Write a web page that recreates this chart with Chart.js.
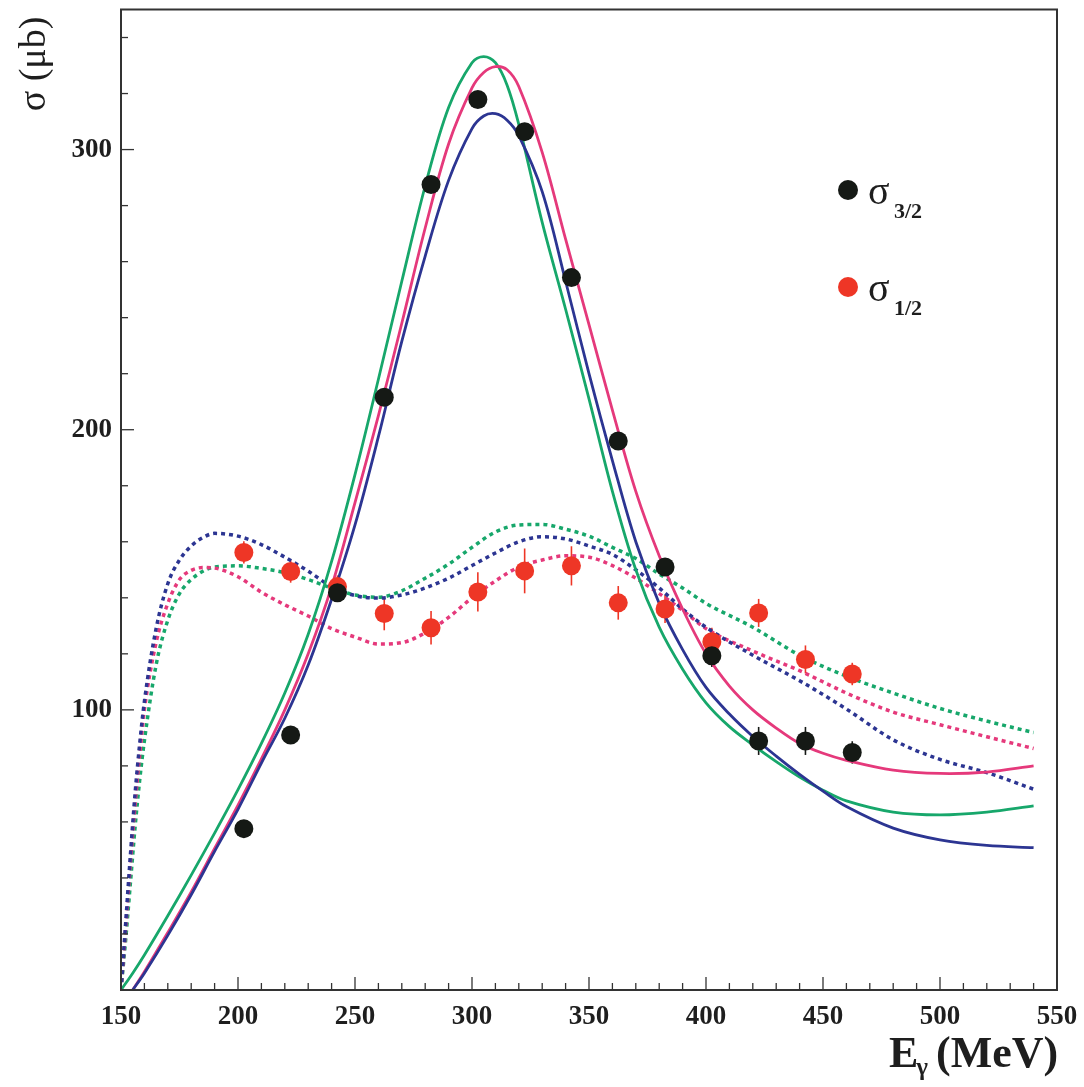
<!DOCTYPE html>
<html>
<head>
<meta charset="utf-8">
<script src="https://cdn.jsdelivr.net/npm/chart.js@4.4.1/dist/chart.umd.min.js"></script>
<style>
  html, body { margin: 0; padding: 0; background: #fff; }
</style>
</head>
<body>
<canvas id="sigmaChart" width="1084" height="1087"></canvas>
<script>
// measured points (E_gamma in MeV, sigma in microbarn)
const pointX = [202.5, 222.5, 242.5, 262.5, 282.5, 302.5, 322.5, 342.5, 362.5, 382.5, 402.5, 422.5, 442.5, 462.5];
const sigma32 = [57.6, 91, 141.8, 211.6, 287.5, 317.9, 306.4, 254.3, 196, 151, 119.3, 88.9, 88.9, 84.8];
const err32 = [3, 3, 3, 3, 3, 3, 3, 3, 3, 3, 4, 5, 5, 4];
const sigma12 = [156.2, 149.4, 144, 134.4, 129.3, 142.1, 149.6, 151.4, 138.2, 136, 124.3, 134.6, 118, 112.8];
const err12 = [4, 4, 4, 6, 6, 7, 8, 7, 6, 5, 5, 5, 5, 4];

const xTickLabels = [150, 200, 250, 300, 350, 400, 450, 500, 550];
const yTickLabels = [100, 200, 300];

// model curves for sigma 3/2 (solid)
const solidX = [150, 155, 160, 170, 180, 190, 200, 210, 220, 230, 240, 250, 260, 270, 280, 290, 300, 305, 310, 315, 320,
  330, 340, 350, 360, 370, 380, 390, 400, 410, 420, 430, 440, 450, 460, 480, 500, 520, 540];
const greenSolid = [0, 6, 12.5, 26.5, 41, 56, 71.5, 88, 106, 127, 153, 184, 218, 253, 287, 315, 331, 333.2, 331, 323, 309,
  274, 243, 211, 178, 150, 129.5, 114.5, 102.5, 94, 87.5, 81.5, 76, 71.3, 67.5, 63.5, 62.5, 63.5, 65.7];
const blueSolid = [null, 0, 6, 19.5, 34, 49.5, 64.5, 81, 97, 116, 139.5, 166, 197.5, 231.5, 262, 289, 307.5, 312, 312.8, 310.5, 305,
  285, 253, 220, 189, 160, 138, 121.5, 108, 98.5, 90.5, 83.5, 77, 71, 65.5, 57.8, 53.6, 51.6, 50.8];
const pinkSolid = [null, 0, 6.5, 20.5, 35, 50.5, 66, 82.5, 100, 120, 144, 174, 205, 238, 272, 302, 322, 327.5, 329.6, 328.5, 322.5,
  299, 268, 237.5, 207, 178, 155, 136, 120, 108.5, 100, 93.5, 88, 84.5, 82, 78.5, 77.3, 77.8, 80];

// model curves for sigma 1/2 (dotted)
const dottedX = [150, 152, 154, 156, 158, 160, 165, 170, 175, 180, 185, 190, 200, 210, 220, 230, 240, 250, 260, 270, 280,
  290, 300, 310, 320, 330, 340, 350, 360, 370, 380, 390, 400, 420, 440, 460, 480, 500, 520, 540];
const blueDotted = [0, 24, 48, 70, 88, 103, 129, 145, 153.5, 158.5, 161.5, 163, 162, 159, 154.5, 149.5, 144, 140.8, 139.9, 141, 143.5,
  147, 151.5, 156, 160, 161.8, 161, 158.5, 155.5, 150, 143.5, 136, 129.5, 119.5, 110.4, 100.3, 89.3, 82.3, 77.6, 71.7];
const pinkDotted = [0, 22, 45, 66, 84, 100, 124, 138, 146.5, 149.8, 150.8, 150.6, 147.5, 142, 137.5, 133.5, 129, 126, 123.5, 124, 127.5,
  133, 140, 146, 151, 153.5, 155, 154.5, 151.5, 147, 141.5, 135.5, 129, 121, 114, 106, 99.2, 94.7, 90.4, 86.2];
const greenDotted = [0, 18, 38, 58, 75, 89, 116, 132, 141.5, 146.5, 149.5, 151, 151.4, 150.5, 149, 146.5, 143.5, 141, 140.2, 142.5, 147,
  152, 158, 163.5, 166, 166.2, 164.5, 162, 158, 154, 148.5, 143.5, 138, 129.5, 119.5, 112, 106, 100.5, 96, 91.9];

const BLACK = '#151915';
const RED = '#ee3626';
const BLUE = '#2c3592';
const PINK = '#e5397b';
const GREEN = '#17a76b';
const INK = '#1e1e1e';
const SERIF = '"Liberation Serif", "DejaVu Serif", serif';

function pts(xs, ys) {
  return xs.map((x, i) => ({ x, y: ys[i] })).filter(p => p.y !== null);
}

function curve(xs, ys, color, dotted) {
  return {
    data: pts(xs, ys),
    showLine: true,
    borderColor: color,
    borderWidth: dotted ? 3.5 : 2.8,
    borderDash: dotted ? [4, 4] : [],
    pointRadius: 0,
    // solid fits are smooth splines, dotted ones rise steeply so keep them monotone
    cubicInterpolationMode: dotted ? 'monotone' : 'default',
    tension: 0.35,
    order: dotted ? 2 : 1
  };
}

const decor = {
  id: 'decor',
  beforeDatasetsDraw(chart) {
    // error bars under the dots
    const { ctx, scales: { x, y } } = chart;
    ctx.save();
    ctx.lineWidth = 1.6;
    [[sigma32, err32, BLACK], [sigma12, err12, RED]].forEach(([vals, errs, col]) => {
      ctx.strokeStyle = col;
      vals.forEach((v, i) => {
        const px = x.getPixelForValue(pointX[i]);
        ctx.beginPath();
        ctx.moveTo(px, y.getPixelForValue(v - errs[i]));
        ctx.lineTo(px, y.getPixelForValue(v + errs[i]));
        ctx.stroke();
      });
    });
    ctx.restore();
  },
  afterDraw(chart) {
    const { ctx, chartArea: a, scales: { x, y } } = chart;
    ctx.save();

    // frame
    ctx.strokeStyle = '#333';
    ctx.lineWidth = 2;
    ctx.strokeRect(a.left, a.top, a.right - a.left, a.bottom - a.top);

    // inward tick marks
    ctx.lineWidth = 1.3;
    y.ticks.forEach(t => {
      if (t.value % 20 !== 0) return;
      const py = y.getPixelForValue(t.value);
      const len = t.value % 100 === 0 ? 13 : 7;
      ctx.beginPath(); ctx.moveTo(a.left, py); ctx.lineTo(a.left + len, py); ctx.stroke();
    });
    x.ticks.forEach(t => {
      const px = x.getPixelForValue(t.value);
      const len = t.value % 50 === 0 ? 13 : 7;
      ctx.beginPath(); ctx.moveTo(px, a.bottom); ctx.lineTo(px, a.bottom - len); ctx.stroke();
    });

    // tick labels
    ctx.fillStyle = INK;
    ctx.font = 'bold 27px ' + SERIF;
    ctx.textAlign = 'right';
    ctx.textBaseline = 'middle';
    yTickLabels.forEach(v => ctx.fillText(String(v), a.left - 9, y.getPixelForValue(v)));
    ctx.textAlign = 'center';
    ctx.textBaseline = 'alphabetic';
    xTickLabels.forEach(v => ctx.fillText(String(v), x.getPixelForValue(v), a.bottom + 34));

    // y title, rotated
    ctx.save();
    ctx.translate(45, 64);
    ctx.rotate(-Math.PI / 2);
    ctx.font = '38px ' + SERIF;
    ctx.textAlign = 'center';
    ctx.fillText('σ (μb)', 0, 0);
    ctx.restore();

    // x title with subscript gamma
    ctx.textAlign = 'left';
    let tx = 889;
    ctx.font = 'bold 44px ' + SERIF;
    ctx.fillText('E', tx, 1067);
    tx += ctx.measureText('E').width;
    ctx.font = 'bold 25px ' + SERIF;
    ctx.fillText('γ', tx - 2, 1075);
    tx += ctx.measureText('γ').width + 6;
    ctx.font = 'bold 44px ' + SERIF;
    ctx.fillText('(MeV)', tx, 1067);

    // legend
    [[BLACK, '3/2', 190], [RED, '1/2', 287]].forEach(([col, sub, ly]) => {
      ctx.fillStyle = col;
      ctx.beginPath();
      ctx.arc(848, ly, 10, 0, Math.PI * 2);
      ctx.fill();
      ctx.fillStyle = INK;
      ctx.font = '40px ' + SERIF;
      ctx.fillText('σ', 868, ly + 14);
      ctx.font = 'bold 22px ' + SERIF;
      ctx.fillText(sub, 894, ly + 28);
    });

    ctx.restore();
  }
};

new Chart(document.getElementById('sigmaChart'), {
  type: 'scatter',
  data: {
    datasets: [
      { data: pts(pointX, sigma32), backgroundColor: BLACK, borderWidth: 0, pointRadius: 9.5, order: 0 },
      { data: pts(pointX, sigma12), backgroundColor: RED, borderWidth: 0, pointRadius: 9.5, order: 0 },
      curve(solidX, blueSolid, BLUE, false),
      curve(solidX, pinkSolid, PINK, false),
      curve(solidX, greenSolid, GREEN, false),
      curve(dottedX, blueDotted, BLUE, true),
      curve(dottedX, pinkDotted, PINK, true),
      curve(dottedX, greenDotted, GREEN, true)
    ]
  },
  options: {
    responsive: false,
    animation: false,
    devicePixelRatio: 1,
    layout: { padding: { top: 9, right: 27, left: 0, bottom: 0 } },
    plugins: { legend: { display: false }, tooltip: { enabled: false } },
    scales: {
      x: {
        type: 'linear',
        min: 150,
        max: 550,
        afterFit: s => { s.height = 97; },
        grid: { display: false },
        border: { display: false },
        ticks: { stepSize: 10, autoSkip: false, display: false }
      },
      y: {
        min: 0,
        max: 350,
        afterFit: s => { s.width = 121; },
        grid: { display: false },
        border: { display: false },
        ticks: { stepSize: 20, autoSkip: false, display: false }
      }
    }
  },
  plugins: [decor]
});
</script>
</body>
</html>
